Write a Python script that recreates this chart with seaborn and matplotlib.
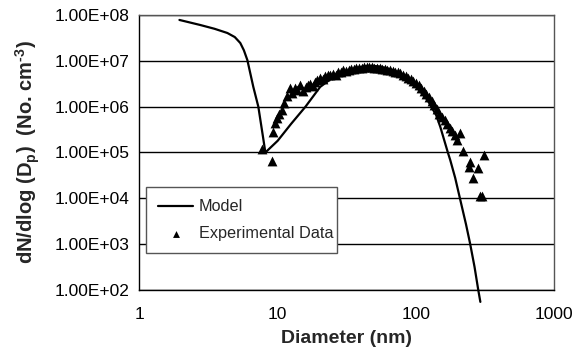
"""Particle size distribution: model vs experimental data"""
import matplotlib
matplotlib.use('Agg')
import matplotlib.pyplot as plt
from matplotlib.ticker import FixedLocator, FuncFormatter
import seaborn as sns

# Model curve (diameter in nm, dN/dlog Dp)
model_d = [1.95, 2.76, 3.5, 4.33, 4.9, 5.37, 5.7, 6.04, 6.67, 7.25, 7.9, 8.15,
           10.0, 12.5, 15.9, 20.3, 25, 30, 36, 42, 48, 55, 65, 77, 95, 121,
           140, 150, 170, 177, 192, 209, 230, 246, 265, 282, 292]
model_n = [7.8e7, 6.05e7, 5.0e7, 4.05e7, 3.3e7, 2.45e7, 1.7e7, 1.04e7, 2.7e6, 1.0e6, 1.87e5, 1.0e5,
           1.8e5, 4.2e5, 1.0e6, 2.7e6, 4.3e6, 5.6e6, 6.8e6, 7.6e6, 7.8e6, 7.5e6, 6.6e6, 5.4e6, 3.3e6, 1.4e6,
           6.5e5, 3.6e5, 1.0e5, 6.8e4, 2.8e4, 9.3e3, 2.7e3, 1.04e3, 3.2e2, 1.0e2, 5.5e1]

# Experimental data
exp_d = [7.75, 9.1, 9.3, 9.6, 9.95, 10.3, 10.8, 11.2, 11.7, 12.3, 12.8, 13.3, 13.9, 14.6,
         15.3, 16.0, 16.6, 17.2, 17.9, 18.6, 19.4, 20.3, 21.2, 22.0, 23.0, 24.0, 25.0, 26.2,
         27.4, 28.6, 29.8, 31.2, 32.6, 34.0, 35.5, 37.0, 38.7, 40.4, 42.2, 44.0, 46.0, 48.0,
         50.1, 52.3, 54.6, 57.0, 59.6, 62.2, 65.0, 67.8, 70.8, 74.0, 77.2, 80.6, 84.2, 87.9,
         91.8, 95.9, 100.1, 104.5, 109.2, 114.0, 119.0, 124.3, 129.8, 135.5, 141.5, 147.8,
         154.3, 161.1, 168.2, 175.7, 183.4, 191.5, 199.0, 209.0, 219.0, 240.0, 246.0, 260.0,
         282.0, 292.0, 300.0, 309.0]
exp_n = [1.2e5, 6.5e4, 2.8e5, 4.5e5, 5.7e5, 7.0e5, 8.5e5, 1.2e6, 1.7e6, 2.5e6, 2.0e6, 2.6e6, 2.3e6, 2.9e6,
         2.2e6, 2.7e6, 3.0e6, 3.1e6, 2.8e6, 3.5e6, 3.8e6, 4.3e6, 4.0e6, 4.6e6, 4.9e6, 4.9e6, 5.2e6, 5.0e6,
         5.6e6, 5.8e6, 6.3e6, 5.9e6, 6.4e6, 6.7e6, 6.6e6, 6.9e6, 7.1e6, 7.0e6, 7.3e6, 7.2e6, 7.3e6, 7.2e6,
         7.1e6, 7.0e6, 6.9e6, 6.8e6, 6.6e6, 6.4e6, 6.2e6, 6.0e6, 5.8e6, 5.6e6, 5.4e6, 5.0e6, 4.6e6, 4.3e6,
         4.0e6, 3.6e6, 3.3e6, 2.9e6, 2.5e6, 2.2e6, 1.9e6, 1.6e6, 1.35e6, 1.1e6, 9.0e5, 7.0e5,
         6.0e5, 5.0e5, 4.2e5, 3.5e5, 3.0e5, 2.4e5, 1.9e5, 2.7e5, 1.1e5, 4.8e4, 6.3e4, 2.8e4,
         4.6e4, 1.1e4, 1.1e4, 8.9e4]

x_ticks = [1, 10, 100, 1000]
y_ticks = [1e2, 1e3, 1e4, 1e5, 1e6, 1e7, 1e8]

sns.set_style('white')
plt.rcParams['font.family'] = ['Liberation Sans', 'DejaVu Sans']
plt.rcParams['mathtext.fontset'] = 'custom'
plt.rcParams['mathtext.rm'] = 'Liberation Sans'
plt.rcParams['mathtext.bf'] = 'Liberation Sans:bold'

fig = plt.figure(figsize=(5.74, 3.53), dpi=100)
ax = fig.add_axes([0.2427, 0.1785, 0.723, 0.779])

sns.lineplot(x=model_d, y=model_n, color='black', linewidth=1.6, sort=False,
             label='Model', ax=ax, clip_on=False)
sns.scatterplot(x=exp_d, y=exp_n, marker='^', color='black', s=50, linewidth=0,
                label='Experimental Data', ax=ax, zorder=3)

ax.set_xscale('log')
ax.set_yscale('log')
ax.set_xlim(1, 1000)
ax.set_ylim(1e2, 1e8)

ax.xaxis.set_major_locator(FixedLocator(x_ticks))
ax.xaxis.set_major_formatter(FuncFormatter(lambda v, p: f'{v:g}'))
ax.yaxis.set_major_locator(FixedLocator(y_ticks))
ax.yaxis.set_major_formatter(FuncFormatter(lambda v, p: f'{v:.2E}'))
ax.minorticks_off()
ax.tick_params(axis='both', which='major', direction='out', length=4, width=1,
               color='black', labelsize=12.5, labelcolor='black', pad=3)
ax.tick_params(axis='x', pad=8)

# horizontal gridlines only
ax.yaxis.grid(True, color='black', linewidth=1)
ax.xaxis.grid(False)
for s in ax.spines.values():
    s.set_color('black')
    s.set_linewidth(1)
for s in ['top', 'right']:
    ax.spines[s].set_color('#555555')

ax.set_xlabel('Diameter (nm)', fontsize=14, fontweight='bold', labelpad=6)
ax.set_ylabel('dN/dlog (D$_\\mathbf{p}$)  (No. cm$^\\mathbf{\u2010 3}$)', fontsize=14.5,
              fontweight='bold', labelpad=9)

leg = ax.legend(loc='lower left', bbox_to_anchor=(0.016, 0.1345, 0.46, 0.222), mode='expand',
                borderaxespad=0, frameon=True, fancybox=False, framealpha=1, edgecolor='#555555',
                fontsize=11.7, handlelength=2.15, handletextpad=0.35, borderpad=0.75,
                labelspacing=0.7, markerscale=0.7)
leg.get_frame().set_linewidth(1)

fig.savefig('out.png', dpi=100)
